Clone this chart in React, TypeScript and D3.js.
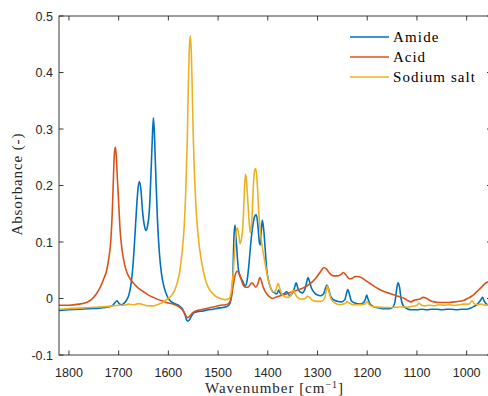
import React from "react";
import * as d3 from "d3";

const xTicks = [1800, 1700, 1600, 1500, 1400, 1300, 1200, 1100, 1000];
const yTicks = [-0.1, 0, 0.1, 0.2, 0.3, 0.4, 0.5];
const yTickLabels = ["-0.1", "0", "0.1", "0.2", "0.3", "0.4", "0.5"];
const seriesNames = ["Amide", "Acid", "Sodium salt"];
const seriesColors = ["#0072BD", "#D95319", "#EDB120"];

const amide: [number, number][] = [
  [1820, -0.021], [1800, -0.02], [1780, -0.019], [1760, -0.018], [1740, -0.017], [1720, -0.015],
  [1712, -0.012], [1706, -0.006], [1703, -0.004], [1700, -0.008], [1695, -0.011], [1690, -0.009],
  [1685, -0.004], [1680, 0.005], [1676, 0.02], [1672, 0.05], [1668, 0.1], [1664, 0.16],
  [1661, 0.195], [1658, 0.207], [1655, 0.19], [1652, 0.155], [1648, 0.128], [1645, 0.12],
  [1642, 0.128], [1638, 0.16], [1635, 0.22], [1632, 0.29], [1630, 0.32], [1628, 0.29],
  [1625, 0.21], [1622, 0.14], [1618, 0.08], [1614, 0.045], [1610, 0.025], [1605, 0.01],
  [1600, 0.0], [1595, -0.005], [1590, -0.008], [1580, -0.012], [1572, -0.018], [1566, -0.03],
  [1562, -0.04], [1558, -0.038], [1554, -0.032], [1548, -0.025], [1540, -0.023], [1530, -0.022],
  [1520, -0.02], [1510, -0.019], [1500, -0.017], [1490, -0.016], [1480, -0.013], [1476, -0.008],
  [1472, 0.01], [1470, 0.05], [1468, 0.11], [1466, 0.13], [1464, 0.11], [1461, 0.07],
  [1458, 0.045], [1455, 0.038], [1450, 0.03], [1446, 0.022], [1442, 0.03], [1438, 0.06],
  [1434, 0.1], [1430, 0.13], [1426, 0.146], [1423, 0.148], [1420, 0.13], [1417, 0.1],
  [1415, 0.095], [1413, 0.12], [1411, 0.139], [1408, 0.12], [1405, 0.085], [1402, 0.05],
  [1398, 0.03], [1394, 0.018], [1390, 0.012], [1386, 0.01], [1382, 0.008], [1378, 0.015],
  [1374, 0.008], [1368, 0.008], [1362, 0.012], [1356, 0.005], [1350, 0.01], [1346, 0.02],
  [1343, 0.028], [1340, 0.02], [1336, 0.012], [1330, 0.01], [1326, 0.015], [1322, 0.028],
  [1319, 0.037], [1316, 0.03], [1312, 0.018], [1306, 0.01], [1300, 0.006], [1294, 0.005],
  [1288, 0.008], [1284, 0.018], [1281, 0.024], [1278, 0.018], [1274, 0.005], [1268, -0.002],
  [1260, -0.005], [1252, -0.006], [1245, -0.002], [1242, 0.008], [1239, 0.016], [1236, 0.008],
  [1232, -0.004], [1225, -0.008], [1215, -0.01], [1208, -0.008], [1204, -0.002], [1201, 0.006],
  [1198, -0.002], [1194, -0.01], [1185, -0.015], [1175, -0.017], [1165, -0.018], [1155, -0.018],
  [1148, -0.015], [1144, -0.005], [1141, 0.015], [1138, 0.028], [1135, 0.02], [1132, 0.0],
  [1128, -0.012], [1120, -0.018], [1110, -0.02], [1100, -0.02], [1090, -0.019], [1080, -0.02],
  [1070, -0.019], [1060, -0.019], [1050, -0.02], [1040, -0.019], [1030, -0.019], [1020, -0.02],
  [1010, -0.019], [1000, -0.019], [992, -0.017], [985, -0.014], [978, -0.01], [972, -0.003],
  [968, 0.002], [965, -0.004], [960, -0.01], [955, -0.012], [950, -0.013],
];

const acid: [number, number][] = [
  [1820, -0.012], [1800, -0.012], [1780, -0.01], [1765, -0.007], [1755, -0.002], [1745, 0.008],
  [1737, 0.02], [1730, 0.035], [1724, 0.05], [1720, 0.07], [1716, 0.1], [1713, 0.15],
  [1711, 0.2], [1709, 0.25], [1707, 0.268], [1705, 0.255], [1703, 0.22], [1700, 0.17],
  [1697, 0.12], [1693, 0.085], [1688, 0.06], [1683, 0.045], [1677, 0.035], [1670, 0.027],
  [1660, 0.018], [1650, 0.012], [1640, 0.006], [1630, 0.002], [1620, -0.002], [1610, -0.005],
  [1600, -0.008], [1590, -0.01], [1580, -0.014], [1572, -0.02], [1566, -0.028], [1562, -0.034],
  [1558, -0.032], [1552, -0.026], [1545, -0.022], [1535, -0.02], [1525, -0.018], [1515, -0.016],
  [1505, -0.014], [1495, -0.012], [1485, -0.011], [1478, -0.008], [1474, 0.0], [1470, 0.02],
  [1466, 0.04], [1462, 0.048], [1458, 0.046], [1454, 0.035], [1450, 0.025], [1446, 0.02],
  [1440, 0.02], [1436, 0.024], [1432, 0.028], [1428, 0.024], [1424, 0.02], [1420, 0.026],
  [1416, 0.037], [1413, 0.032], [1410, 0.022], [1405, 0.012], [1400, 0.006], [1395, 0.002],
  [1390, 0.0], [1385, 0.002], [1378, 0.004], [1370, 0.006], [1360, 0.009], [1350, 0.012],
  [1340, 0.015], [1330, 0.018], [1320, 0.023], [1310, 0.03], [1300, 0.04], [1292, 0.05],
  [1287, 0.055], [1282, 0.052], [1276, 0.045], [1268, 0.04], [1260, 0.04], [1252, 0.043],
  [1248, 0.046], [1243, 0.042], [1236, 0.035], [1230, 0.036], [1224, 0.039], [1218, 0.039],
  [1212, 0.037], [1205, 0.033], [1195, 0.027], [1185, 0.021], [1175, 0.016], [1165, 0.012],
  [1155, 0.009], [1145, 0.006], [1135, 0.003], [1125, 0.0], [1118, -0.004], [1112, -0.006],
  [1106, -0.003], [1100, -0.002], [1094, -0.001], [1088, 0.002], [1082, 0.001], [1075, -0.003],
  [1065, -0.006], [1055, -0.007], [1045, -0.007], [1035, -0.007], [1025, -0.006], [1015, -0.005],
  [1005, -0.003], [998, 0.0], [990, 0.004], [982, 0.01], [975, 0.016], [968, 0.022],
  [962, 0.027], [956, 0.03], [950, 0.034],
];

const sodiumSalt: [number, number][] = [
  [1820, -0.019], [1800, -0.018], [1780, -0.017], [1760, -0.016], [1740, -0.015], [1720, -0.014],
  [1700, -0.012], [1690, -0.012], [1680, -0.01], [1670, -0.011], [1660, -0.009], [1650, -0.011],
  [1640, -0.013], [1630, -0.013], [1620, -0.01], [1612, -0.007], [1605, -0.003], [1600, 0.0],
  [1595, 0.004], [1590, 0.01], [1585, 0.02], [1580, 0.035], [1576, 0.055], [1572, 0.085],
  [1568, 0.13], [1565, 0.19], [1562, 0.28], [1560, 0.37], [1558, 0.44], [1556, 0.465],
  [1554, 0.44], [1552, 0.37], [1550, 0.29], [1547, 0.21], [1544, 0.155], [1540, 0.11],
  [1535, 0.075], [1530, 0.05], [1525, 0.032], [1520, 0.02], [1512, 0.01], [1505, 0.004],
  [1495, 0.0], [1485, -0.002], [1478, 0.0], [1474, 0.01], [1470, 0.04], [1467, 0.08],
  [1464, 0.115], [1461, 0.125], [1458, 0.11], [1456, 0.097], [1453, 0.105], [1450, 0.13],
  [1447, 0.19], [1445, 0.22], [1443, 0.21], [1440, 0.17], [1437, 0.13], [1435, 0.116],
  [1432, 0.14], [1429, 0.2], [1426, 0.228], [1424, 0.23], [1421, 0.2], [1418, 0.15],
  [1414, 0.11], [1410, 0.085], [1406, 0.065], [1402, 0.045], [1398, 0.03], [1394, 0.018],
  [1390, 0.012], [1386, 0.012], [1382, 0.02], [1379, 0.027], [1376, 0.018], [1372, 0.008],
  [1366, 0.003], [1360, 0.002], [1354, 0.005], [1349, 0.015], [1345, 0.008], [1340, 0.002],
  [1332, -0.001], [1325, 0.0], [1320, 0.004], [1316, 0.002], [1310, -0.003], [1300, -0.005],
  [1292, -0.005], [1286, 0.0], [1282, 0.015], [1280, 0.022], [1277, 0.012], [1272, -0.002],
  [1265, -0.008], [1255, -0.011], [1245, -0.009], [1240, -0.006], [1236, -0.008], [1228, -0.011],
  [1215, -0.011], [1205, -0.01], [1200, -0.006], [1196, -0.011], [1190, -0.014], [1180, -0.015],
  [1165, -0.016], [1150, -0.016], [1135, -0.015], [1120, -0.015], [1110, -0.014], [1100, -0.012],
  [1096, -0.008], [1092, -0.011], [1085, -0.013], [1075, -0.012], [1065, -0.013], [1055, -0.011],
  [1045, -0.012], [1035, -0.011], [1025, -0.012], [1015, -0.011], [1005, -0.01], [995, -0.01],
  [989, -0.004], [985, -0.009], [978, -0.011], [970, -0.01], [962, -0.012], [955, -0.011],
  [950, -0.012],
];

const allSeries = [amide, acid, sodiumSalt];

const W = 488;
const H = 396;
const left = 59;
const right = 491.5;
const top = 16;
const bottom = 355;
const axisColor = "#262626";
const tickFont = "'Liberation Sans', Arial, sans-serif";
const serifFont = "'Liberation Serif', 'Times New Roman', serif";

export default function App() {
  const x = d3.scaleLinear().domain([1820, 950]).range([left, right]);
  const y = d3.scaleLinear().domain([-0.1, 0.5]).range([bottom, top]);
  const line = d3
    .line<[number, number]>()
    .x((d) => x(d[0]))
    .y((d) => y(d[1]))
    .curve(d3.curveMonotoneX);
  const tl = 4.5;
  const legendY = [37, 57, 77];
  const legendWidths = [45.5, 32, 82];

  return (
    <div style={{ position: "absolute", left: 0, top: 0 }}>
      <svg width={W} height={H} style={{ display: "block", background: "#fff" }}>
        <defs>
          <clipPath id="plotClip">
            <rect x={left} y={top} width={right - left} height={bottom - top} />
          </clipPath>
        </defs>
        <rect x={0} y={0} width={W} height={H} fill="#fff" />
        <g clipPath="url(#plotClip)">
          {allSeries.map((s, i) => (
            <path
              key={i}
              d={line(s) || ""}
              fill="none"
              stroke={seriesColors[i]}
              strokeWidth={1.6}
              strokeLinejoin="round"
            />
          ))}
        </g>
        <rect
          x={left}
          y={top}
          width={right - left}
          height={bottom - top}
          fill="none"
          stroke={axisColor}
          strokeWidth={0.9}
        />
        {xTicks.map((t) => (
          <g key={"x" + t}>
            <line x1={x(t)} x2={x(t)} y1={bottom} y2={bottom - tl} stroke={axisColor} strokeWidth={0.9} />
            <line x1={x(t)} x2={x(t)} y1={top} y2={top + tl} stroke={axisColor} strokeWidth={0.9} />
            <text
              x={x(t)}
              y={377}
              textAnchor="middle"
              fontFamily={tickFont}
              fontSize={12.5}
              fill={axisColor}
            >
              {t}
            </text>
          </g>
        ))}
        {yTicks.map((t, i) => (
          <g key={"y" + t}>
            <line x1={left} x2={left + tl} y1={y(t)} y2={y(t)} stroke={axisColor} strokeWidth={0.9} />
            <line x1={right} x2={right - tl} y1={y(t)} y2={y(t)} stroke={axisColor} strokeWidth={0.9} />
            <text
              x={53}
              y={y(t) + 4.5}
              textAnchor="end"
              fontFamily={tickFont}
              fontSize={12.5}
              fill={axisColor}
            >
              {yTickLabels[i]}
            </text>
          </g>
        ))}
        <text
          x={274}
          y={393}
          textAnchor="middle"
          fontFamily={serifFont}
          fontSize={15}
          fill={axisColor}
          textLength={138}
          lengthAdjust="spacing"
        >
          Wavenumber [cm
          <tspan fontSize={10} dy={-5}>
            −1
          </tspan>
          <tspan dy={5}>]</tspan>
        </text>
        <text
          transform={`translate(22, ${(top + bottom) / 2 - 1}) rotate(-90)`}
          textAnchor="middle"
          fontFamily={serifFont}
          fontSize={15}
          fill={axisColor}
          textLength={102}
          lengthAdjust="spacing"
        >
          Absorbance (-)
        </text>
        {seriesNames.map((n, i) => (
          <g key={n}>
            <line
              x1={350}
              x2={389}
              y1={legendY[i]}
              y2={legendY[i]}
              stroke={seriesColors[i]}
              strokeWidth={1.6}
            />
            <text
              x={393}
              y={legendY[i] + 4.5}
              fontFamily={serifFont}
              fontSize={15}
              fill="#000"
              textLength={legendWidths[i]}
              lengthAdjust="spacing"
            >
              {n}
            </text>
          </g>
        ))}
      </svg>
    </div>
  );
}
